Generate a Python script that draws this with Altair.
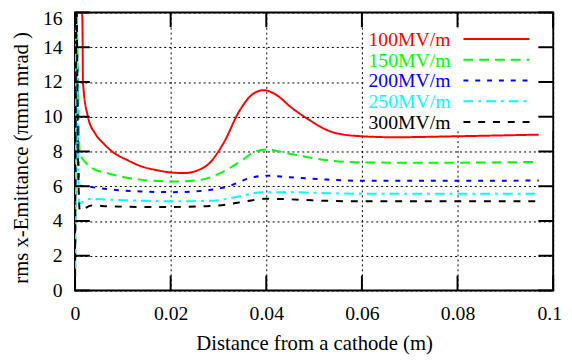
import altair as alt
import pandas as pd

series = ["100MV/m", "150MV/m", "200MV/m", "250MV/m", "300MV/m"]
colors = ["#ff0000", "#00ff00", "#0000ff", "#00ffff", "#000000"]
dashes = [[1, 0], [10, 6], [5, 7], [10, 5, 3, 5], [7, 8]]

x100 = [0.0012, 0.0015, 0.0016, 0.00165, 0.0027, 0.0043, 0.0060, 0.0080, 0.0110,
        0.0138, 0.0172, 0.0206, 0.0230, 0.0255, 0.0280, 0.0310, 0.0344, 0.0371, 0.0395,
        0.0419, 0.0454, 0.0488, 0.0530, 0.0586, 0.0668, 0.0806, 0.0970]
y100 = [17.5, 16.0, 14.0, 12.0, 10.0, 9.0, 8.45, 7.95, 7.5,
        7.15, 6.92, 6.78, 6.76, 6.9, 7.3, 8.45, 10.34, 11.29, 11.53,
        11.29, 10.5, 9.85, 9.2, 8.9, 8.82, 8.88, 8.97]

x150 = [0.0, 0.0003, 0.0006, 0.0010, 0.0021, 0.0035, 0.0069, 0.0103, 0.0137, 0.0206,
        0.0261, 0.0310, 0.0344, 0.0378, 0.0399, 0.0447, 0.0515, 0.0599, 0.0737, 0.0970]
y150 = [0.0, 17.0, 12.0, 7.9, 7.4, 7.05, 6.74, 6.52, 6.38, 6.27,
        6.36, 6.84, 7.4, 8.01, 8.12, 7.88, 7.54, 7.37, 7.35, 7.4]

x200 = [0.0, 0.0003, 0.0006, 0.0009, 0.0034, 0.0069, 0.0137, 0.0206, 0.0275, 0.0323,
        0.0364, 0.0399, 0.0447, 0.0515, 0.0599, 0.0806, 0.0970]
y200 = [0.0, 17.0, 9.0, 6.05, 5.95, 5.83, 5.7, 5.66, 5.76, 6.02,
        6.46, 6.61, 6.52, 6.4, 6.31, 6.31, 6.33]

x250 = [0.0, 0.0003, 0.0006, 0.0009, 0.0027, 0.0069, 0.0137, 0.0206, 0.0289, 0.0344,
        0.0392, 0.0447, 0.0515, 0.0599, 0.0806, 0.0970]
y250 = [0.0, 17.0, 8.0, 5.0, 5.27, 5.23, 5.17, 5.13, 5.17, 5.42,
        5.66, 5.66, 5.61, 5.57, 5.57, 5.57]

x300 = [0.0, 0.0003, 0.0006, 0.0010, 0.0034, 0.0069, 0.0137, 0.0206, 0.0275, 0.0316,
        0.0357, 0.0399, 0.0447, 0.0495, 0.0599, 0.0806, 0.0970]
y300 = [0.0, 17.0, 8.0, 4.6, 4.89, 4.85, 4.81, 4.81, 4.85, 4.94,
        5.13, 5.28, 5.25, 5.19, 5.13, 5.13, 5.13]

xticks = [0, 0.02, 0.04, 0.06, 0.08, 0.1]
yticks = [0, 2, 4, 6, 8, 10, 12, 14, 16]

xs = [x100, x150, x200, x250, x300]
ys = [y100, y150, y200, y250, y300]
rows = []
for k, (name, xv, yv) in enumerate(zip(series, xs, ys)):
    for i, (a, b) in enumerate(zip(xv, yv)):
        rows.append({"series": name, "k": k, "i": i, "x": a, "y": b})
df = pd.DataFrame(rows)

W, H = 485, 282
FONT = "Liberation Serif"

xscale = alt.Scale(domain=[0, 0.1], nice=False, zero=False)
yscale = alt.Scale(domain=[0, 16], nice=False, zero=False)
cscale = alt.Scale(domain=series, range=colors)
dscale = alt.Scale(domain=series, range=dashes)

xaxis = alt.Axis(values=xticks, format="~g", title="Distance from a cathode (m)",
                 ticks=False, tickSize=0, domain=False, grid=True,
                 gridDash=[2, 3], gridColor="black", gridOpacity=1, gridWidth=1,
                 labelFont=FONT, labelFontSize=20, labelColor="black",
                 labelBaseline="alphabetic", labelPadding=29,
                 labelOffset={"condition": {"test": "datum.value >= 0.099", "value": -4}, "value": 0},
                 titleFont=FONT, titleFontSize=21, titleFontWeight="normal",
                 titleColor="black", titleBaseline="alphabetic", titleY=60,
                 labelFlush=False)
yaxis = alt.Axis(values=yticks, title="rms x-Emittance (\u03c0mm mrad )",
                 ticks=False, tickSize=0, domain=False, grid=True,
                 gridDash=[2, 3], gridColor="black", gridOpacity=1, gridWidth=1,
                 labelFont=FONT, labelFontSize=20, labelColor="black",
                 labelPadding=13,
                 labelOffset={"condition": {"test": "datum.value >= 15.9", "value": 6}, "value": 0},
                 titleFont=FONT, titleFontSize=21, titleFontWeight="normal",
                 titleColor="black", titleBaseline="alphabetic",
                 titleX=-48, titleY=147, titleAngle=-90, titleAlign="center",
                 labelFlush=False)

lines = alt.Chart(df).mark_line(clip=True, strokeWidth=2, interpolate="monotone").encode(
    x=alt.X("x:Q", scale=xscale, axis=xaxis),
    y=alt.Y("y:Q", scale=yscale, axis=yaxis),
    color=alt.Color("series:N", scale=cscale, legend=None),
    strokeDash=alt.StrokeDash("series:N", scale=dscale, legend=None),
    detail="series:N",
    order="i:Q",
)

bg = alt.Chart(pd.DataFrame({"a": [0]})).mark_rect(color="white").encode(
    x=alt.value(293), x2=alt.value(484), y=alt.value(16), y2=alt.value(120))

dxt = pd.DataFrame({"x": xticks})
dyt = pd.DataFrame({"y": yticks})
tick_b = alt.Chart(dxt).mark_rule(color="black", strokeWidth=2).encode(
    x=alt.X("x:Q", scale=xscale, axis=xaxis), y=alt.value(H), y2=alt.value(H - 15))
tick_t = alt.Chart(dxt).mark_rule(color="black", strokeWidth=2).encode(
    x=alt.X("x:Q", scale=xscale, axis=xaxis), y=alt.value(0), y2=alt.value(15))
tick_l = alt.Chart(dyt).mark_rule(color="black", strokeWidth=2).encode(
    y=alt.Y("y:Q", scale=yscale, axis=yaxis), x=alt.value(0), x2=alt.value(15))
tick_r = alt.Chart(dyt).mark_rule(color="black", strokeWidth=2).encode(
    y=alt.Y("y:Q", scale=yscale, axis=yaxis), x=alt.value(W), x2=alt.value(W - 15))

dleg = pd.DataFrame({"series": series, "rank": list(range(len(series)))})
leg_text = alt.Chart(dleg).transform_calculate(ty="34 + 21*datum.rank").mark_text(
    align="right", baseline="alphabetic", font=FONT, fontSize=20).encode(
    x=alt.value(381), y=alt.Y("ty:Q", scale=None),
    text="series:N", color=alt.Color("series:N", scale=cscale, legend=None))
leg_line = alt.Chart(dleg).transform_calculate(ty="27 + 21*datum.rank").mark_rule(
    strokeWidth=2).encode(
    x=alt.value(394), x2=alt.value(461), y=alt.Y("ty:Q", scale=None),
    color=alt.Color("series:N", scale=cscale, legend=None),
    strokeDash=alt.StrokeDash("series:N", scale=dscale, legend=None))

chart = alt.layer(lines, bg, leg_text, leg_line, tick_b, tick_t, tick_l, tick_r).properties(
    width=W, height=H,
    autosize=alt.AutoSizeParams(type="none"),
    padding={"left": 68, "top": 2, "right": 11, "bottom": 70},
    background="white",
).configure_view(stroke="black", strokeWidth=2)

chart.save("out.html", embed_options={"renderer": "svg", "actions": False})
